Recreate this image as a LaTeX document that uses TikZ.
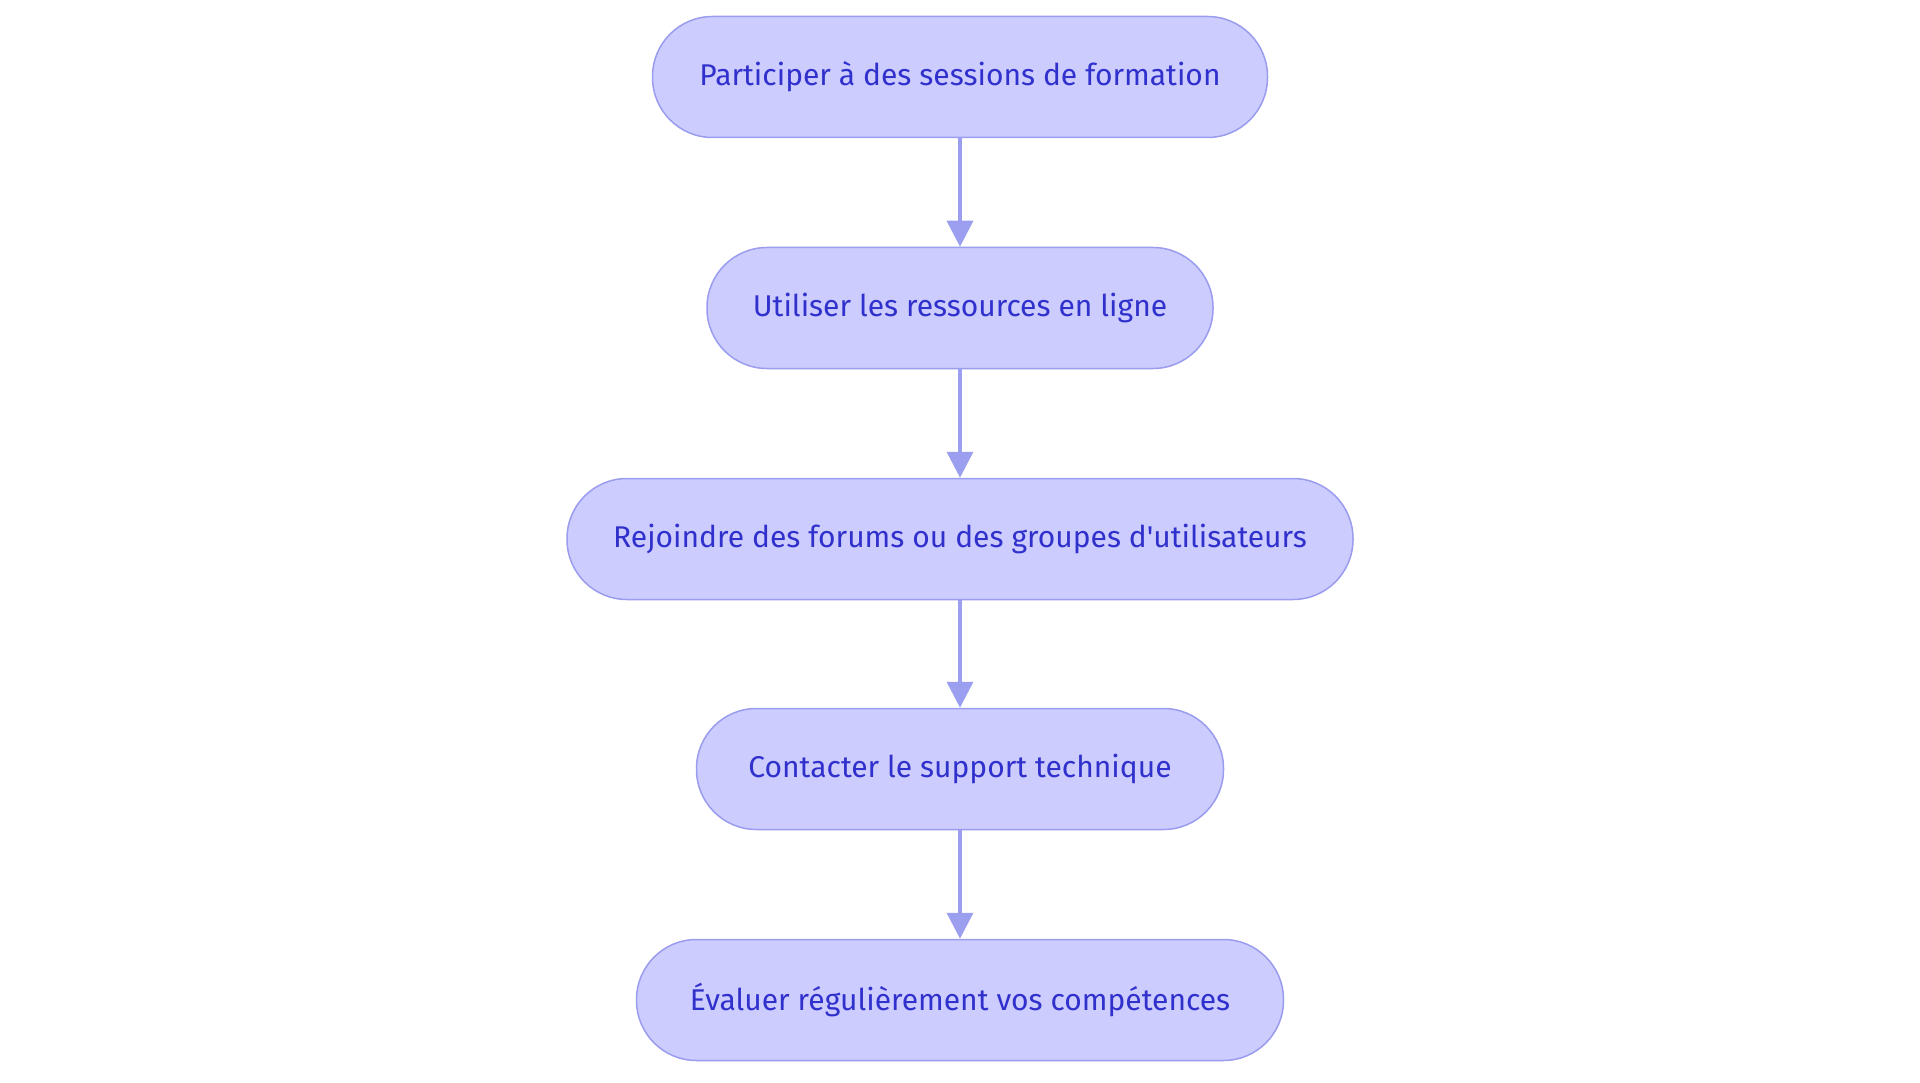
\documentclass[tikz,border=0pt]{standalone}
\usepackage{fontspec}
\setmainfont{Fira Sans}
\usetikzlibrary{arrows.meta}
\definecolor{nfill}{HTML}{CCCCFF}
\definecolor{ndraw}{HTML}{9A9CEE}
\definecolor{ntext}{HTML}{3030CC}
\definecolor{arr}{HTML}{9C9FF0}
\begin{document}
\begin{tikzpicture}[x=1pt,y=-1pt,
  box/.style={draw=ndraw,fill=nfill,line width=1.5pt,rounded corners=60pt,minimum height=121pt,text=ntext,font=\fontsize{30}{34}\selectfont,inner sep=0pt},
  con/.style={draw=arr,line width=3.5pt,-{Triangle[length=26pt,width=26pt]}}]
\useasboundingbox (0,0) rectangle (1920,1083);
\node[box,minimum width=615pt] (a) at (960,77) {Participer à des sessions de formation};
\node[box,minimum width=506pt] (b) at (960,308) {Utiliser les ressources en ligne};
\node[box,minimum width=786pt] (c) at (960,539) {Rejoindre des forums ou des groupes d\textquotesingle utilisateurs};
\node[box,minimum width=527pt] (d) at (960,769) {Contacter le support technique};
\node[box,minimum width=647pt] (e) at (960,1000) {Évaluer régulièrement vos compétences};
\draw[con] (a) -- (b);
\draw[con] (b) -- (c);
\draw[con] (c) -- (d);
\draw[con] (d) -- (e);
\end{tikzpicture}
\end{document}
